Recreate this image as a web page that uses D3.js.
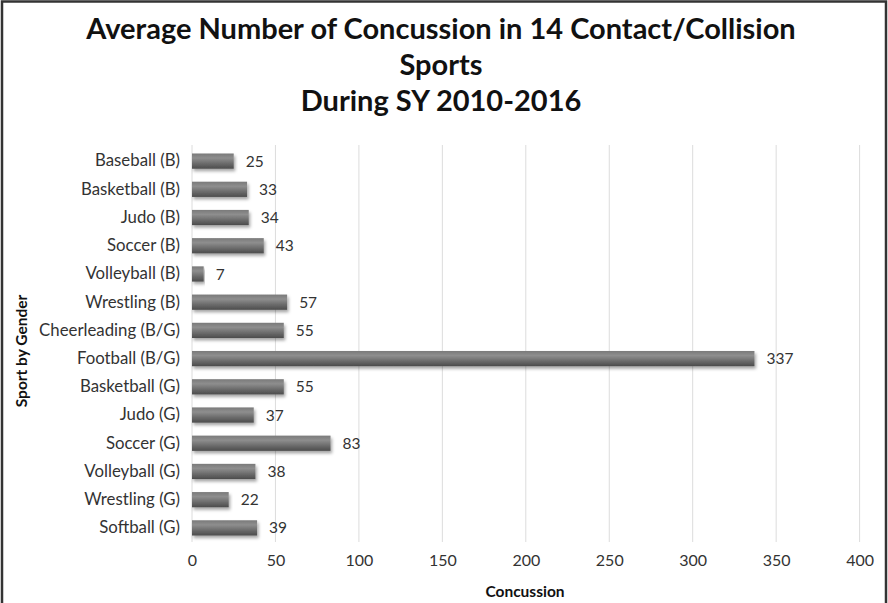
<!DOCTYPE html>
<html>
<head>
<meta charset="utf-8">
<script src="https://cdn.jsdelivr.net/npm/d3@7"></script>
<style>
  html, body { margin: 0; padding: 0; background: #fff; }
  svg { display: block; }
</style>
</head>
<body>
<svg id="chart" width="888" height="603"></svg>
<script>
// Sports (top to bottom) and their average concussion counts
const sports = [
  "Baseball (B)", "Basketball (B)", "Judo (B)", "Soccer (B)", "Volleyball (B)",
  "Wrestling (B)", "Cheerleading (B/G)", "Football (B/G)", "Basketball (G)",
  "Judo (G)", "Soccer (G)", "Volleyball (G)", "Wrestling (G)", "Softball (G)"
];
const concussions = [25, 33, 34, 43, 7, 57, 55, 337, 55, 37, 83, 38, 22, 39];
const xTicks = [0, 50, 100, 150, 200, 250, 300, 350, 400];
const titleLines = [
  "Average Number of Concussion in 14 Contact/Collision",
  "Sports",
  "During SY 2010-2016"
];

const font = "Lato, 'Open Sans', sans-serif";
const svg = d3.select("#chart");
const W = 888, H = 603;

// Frame
svg.append("rect").attr("x", 2).attr("y", 1.5).attr("width", W - 4).attr("height", H)
  .attr("fill", "#fff").attr("stroke", "#333").attr("stroke-width", 2.5);

const defs = svg.append("defs");
const grad = defs.append("linearGradient").attr("id", "barGrad")
  .attr("x1", 0).attr("y1", 0).attr("x2", 0).attr("y2", 1);
[["0%", "#7a7a7a"], ["30%", "#8e8e8e"], ["65%", "#6c6c6c"], ["100%", "#4c4c4c"]]
  .forEach(([o, c]) => grad.append("stop").attr("offset", o).attr("stop-color", c));
const shadow = defs.append("filter").attr("id", "barShadow")
  .attr("x", "-5%").attr("y", "-50%").attr("width", "115%").attr("height", "220%");
shadow.append("feDropShadow").attr("dx", 1.5).attr("dy", 2.5)
  .attr("stdDeviation", 1.6).attr("flood-color", "#000").attr("flood-opacity", 0.35);

const x = d3.scaleLinear().domain([0, 400]).range([192, 859.6]);
const y = d3.scaleBand().domain(sports).range([147, 542]).paddingInner(0.46).paddingOuter(0.23);

// Vertical gridlines
svg.append("g").selectAll("line").data(xTicks).join("line")
  .attr("x1", d => x(d)).attr("x2", d => x(d))
  .attr("y1", 145).attr("y2", 542)
  .attr("stroke", "#dcdcdc").attr("stroke-width", 1);

// Bars
svg.append("g").selectAll("rect").data(concussions).join("rect")
  .attr("x", x(0))
  .attr("y", (d, i) => y(sports[i]))
  .attr("width", d => x(d) - x(0))
  .attr("height", y.bandwidth())
  .attr("fill", "url(#barGrad)")
  .attr("filter", "url(#barShadow)");

// Value labels
svg.append("g").selectAll("text").data(concussions).join("text")
  .attr("x", d => x(d) + 12)
  .attr("y", (d, i) => y(sports[i]) + y.bandwidth() / 2)
  .attr("dy", "0.36em")
  .attr("font-family", font).attr("font-size", 15.5).attr("fill", "#333")
  .text(d => d);

// Category axis labels
const yAxis = d3.axisLeft(y).tickSize(0).tickPadding(12);
const gy = svg.append("g").attr("transform", `translate(${x(0)},0)`).call(yAxis);
gy.select(".domain").remove();
gy.selectAll("text").attr("font-family", font).attr("font-size", 16.8).attr("fill", "#333");

// Value axis labels
const xAxis = d3.axisBottom(x).tickValues(xTicks).tickSize(0).tickPadding(0);
const gx = svg.append("g").attr("transform", "translate(0,555)").call(xAxis);
gx.select(".domain").remove();
gx.selectAll("text").attr("font-family", font).attr("font-size", 16).attr("fill", "#333");

// Titles
svg.append("g").selectAll("text").data(titleLines).join("text")
  .attr("x", 441).attr("y", (d, i) => 39 + i * 36)
  .attr("text-anchor", "middle")
  .attr("font-family", font).attr("font-weight", "bold").attr("font-size", 29)
  .attr("fill", "#111")
  .text(d => d);

svg.append("text").attr("x", 525).attr("y", 597)
  .attr("text-anchor", "middle")
  .attr("font-family", font).attr("font-weight", "bold").attr("font-size", 15.5).attr("fill", "#111")
  .text("Concussion");

svg.append("text")
  .attr("transform", "translate(27,351) rotate(-90)")
  .attr("text-anchor", "middle")
  .attr("font-family", font).attr("font-weight", "bold").attr("font-size", 15.5).attr("fill", "#111")
  .text("Sport by Gender");
</script>
</body>
</html>
